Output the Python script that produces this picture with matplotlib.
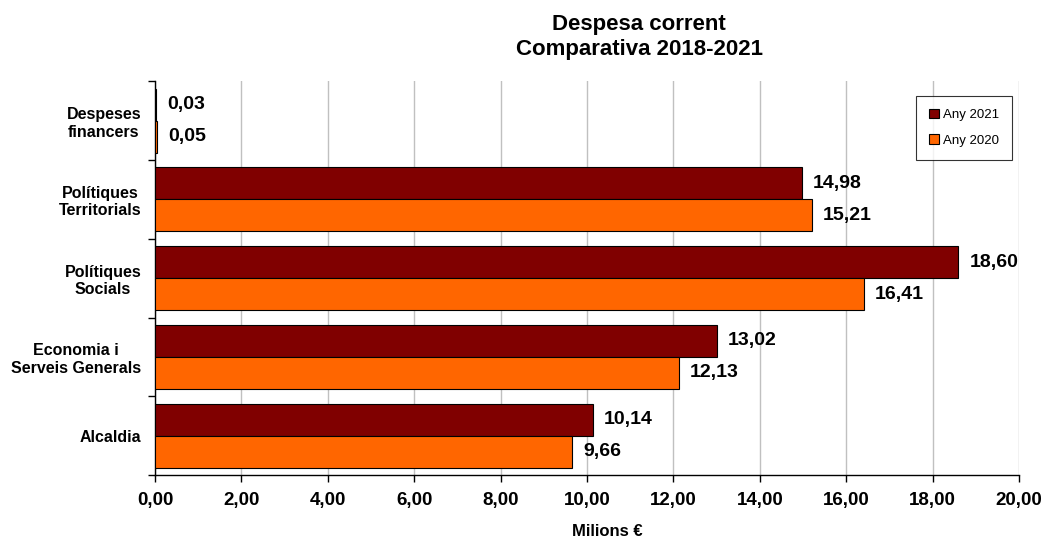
import matplotlib
matplotlib.use("Agg")
import matplotlib.pyplot as plt
import numpy as np

categories = ["Alcaldia", "Economia i\nServeis Generals", "Polítiques\nSocials",
              "Polítiques\nTerritorials", "Despeses\nfinancers"]
any2021 = [10.14, 13.02, 18.60, 14.98, 0.03]
any2020 = [9.66, 12.13, 16.41, 15.21, 0.05]
xticks = [0, 2, 4, 6, 8, 10, 12, 14, 16, 18, 20]

plt.rcParams['font.family'] = ['Liberation Sans', 'DejaVu Sans']

fig = plt.figure(figsize=(10.44, 5.38), dpi=100)
ax = fig.add_axes([0.1485, 0.117, 0.8275, 0.732])

y = np.arange(len(categories))
h = 0.405
c21 = "#800000"
c20 = "#FF6600"
ax.barh(y + h/2, any2021, height=h, color=c21, edgecolor="black", linewidth=0.8, label="Any 2021", zorder=3)
ax.barh(y - h/2, any2020, height=h, color=c20, edgecolor="black", linewidth=0.8, label="Any 2020", zorder=3)

for yi, v in zip(y, any2021):
    ax.text(v + 0.25, yi + h/2, f"{v:.2f}".replace(".", ","), va="center", ha="left",
            fontsize=14, fontweight="bold")
for yi, v in zip(y, any2020):
    ax.text(v + 0.25, yi - h/2, f"{v:.2f}".replace(".", ","), va="center", ha="left",
            fontsize=14, fontweight="bold")

ax.set_xlim(0, 20)
ax.set_ylim(-0.5, len(categories) - 0.5)
ax.set_xticks(xticks)
ax.set_xticklabels([f"{t:.2f}".replace(".", ",") for t in xticks], fontsize=13.5, fontweight="bold")
ax.set_yticks(y)
ax.set_yticklabels(categories, fontsize=11.5, fontweight="bold", ha="right", multialignment="center")
ax.tick_params(axis="y", length=0, pad=10)
ax.set_yticks(np.arange(-0.5, len(categories)), minor=True)
ax.tick_params(axis="y", which="minor", length=5, width=1)
ax.tick_params(axis="x", length=5, width=1, pad=7)

ax.grid(axis="x", color="#C0C0C0", linewidth=1, zorder=0)
for s in ["top", "right"]:
    ax.spines[s].set_visible(False)
ax.spines["left"].set_linewidth(1)
ax.spines["bottom"].set_linewidth(1)

fig.text(607 / 1044, 1 - 532 / 538, "Milions €", fontsize=12, fontweight="bold",
         ha="center", va="center")
fig.text(639 / 1044, 1 - 37 / 538, "Despesa corrent\nComparativa 2018-2021", fontsize=16,
         fontweight="bold", ha="center", va="center", multialignment="center", linespacing=1.3)

leg = ax.legend(loc="upper right", bbox_to_anchor=(0.9995, 0.98), fontsize=9.5,
                frameon=True, fancybox=False, edgecolor="black", handlelength=0.7,
                handleheight=0.7, handletextpad=0.3, labelspacing=1.0, borderpad=1.0)
leg.get_frame().set_linewidth(0.8)

fig.savefig("out.png", dpi=100)
